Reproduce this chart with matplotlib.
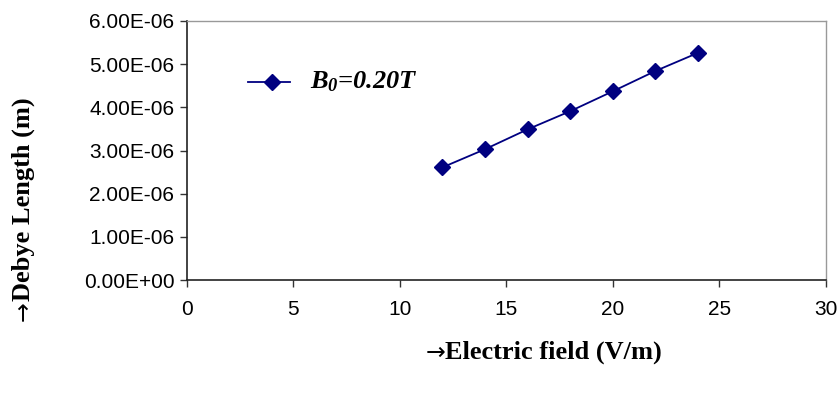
import matplotlib.pyplot as plt
from matplotlib.ticker import FuncFormatter

plt.rcParams['mathtext.fontset'] = 'custom'
plt.rcParams['mathtext.it'] = 'Liberation Serif:bold:italic'
plt.rcParams['mathtext.rm'] = 'Liberation Serif:bold:italic'

# Data
electric_field = [12, 14, 16, 18, 20, 22, 24]
debye_length = [2.61e-6, 3.03e-6, 3.49e-6, 3.91e-6, 4.37e-6, 4.84e-6, 5.26e-6]
x_ticks = [0, 5, 10, 15, 20, 25, 30]
y_ticks = [0, 1e-6, 2e-6, 3e-6, 4e-6, 5e-6, 6e-6]

navy = '#000080'
serif = 'Liberation Serif'

fig = plt.figure(figsize=(8.4, 3.94), dpi=100)
ax = fig.add_axes([0.2226, 0.289, 0.7604, 0.658])

ax.plot(electric_field, debye_length, color=navy, lw=1.3, marker='D',
        markersize=8, markerfacecolor=navy, markeredgecolor=navy)

ax.set_xlim(0, 30)
ax.set_ylim(0, 6e-6)
ax.set_xticks(x_ticks)
ax.set_yticks(y_ticks)
ax.yaxis.set_major_formatter(FuncFormatter(lambda v, pos: '%.2E' % v))

for lab in ax.get_xticklabels() + ax.get_yticklabels():
    lab.set_fontfamily('Liberation Sans')
    lab.set_fontsize(15)
ax.tick_params(direction='out', length=5, width=1, color='#333333', pad=4)
ax.tick_params(axis='x', pad=9)

for s in ['left', 'bottom']:
    ax.spines[s].set_color('#222222')
    ax.spines[s].set_linewidth(1.2)
for s in ['top', 'right']:
    ax.spines[s].set_color('#999999')
    ax.spines[s].set_linewidth(1.0)

# legend drawn by hand
leg_y = 4.59e-6
ax.plot([2.86, 4.84], [leg_y, leg_y], color=navy, lw=1.3)
ax.plot([4.0], [leg_y], marker='D', markersize=8, color=navy)
ax.text(5.8, leg_y, r'$B_0$=0.20T', fontsize=19, fontfamily=serif,
        fontweight='bold', fontstyle='italic', va='center', ha='left')

# axis titles with a wide arrow in front
fig.text(0.530, 0.105, 'Electric field (V/m)', va='center', ha='left',
         fontfamily=serif, fontweight='bold', fontsize=19)
fig.text(0.028, 0.235, 'Debye Length (m)', rotation=90, va='bottom', ha='center',
         fontfamily=serif, fontweight='bold', fontsize=19)
fig.text(0.530, 0.105, '\u2192', va='center', ha='right',
         fontfamily='DejaVu Sans', fontsize=17)
fig.text(0.028, 0.235, '\u2192', rotation=90, va='top', ha='center',
         fontfamily='DejaVu Sans', fontsize=17)

fig.savefig('out.png', dpi=100)
